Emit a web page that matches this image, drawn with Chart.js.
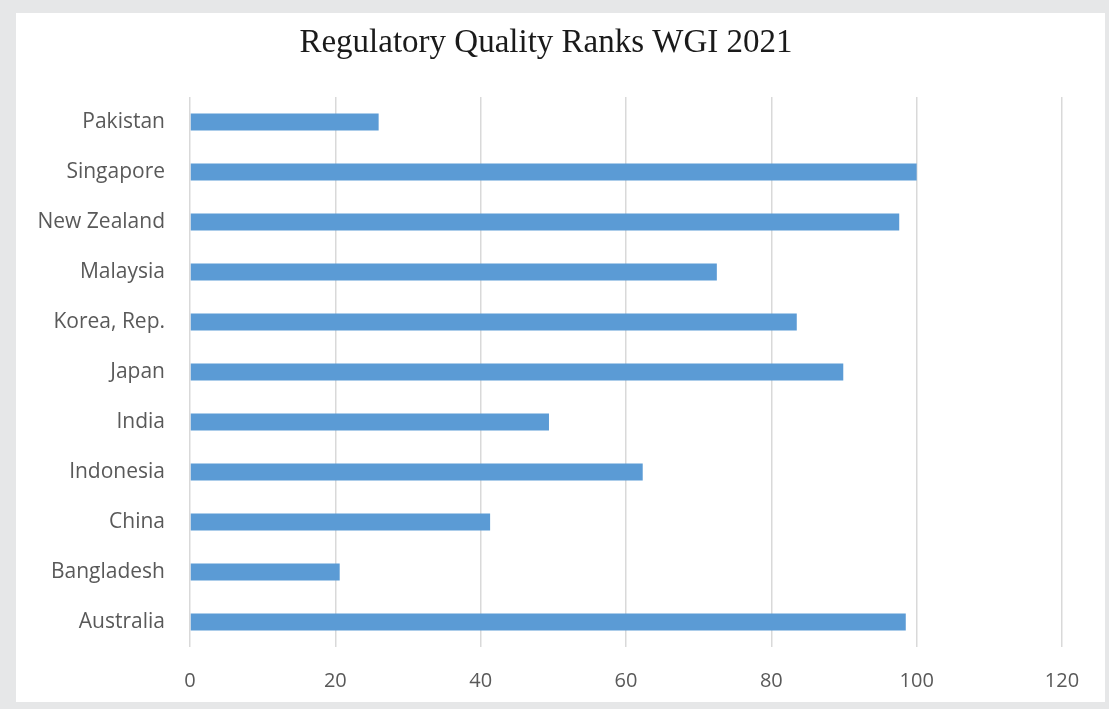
<!DOCTYPE html>
<html>
<head>
<meta charset="utf-8">
<script src="https://cdn.jsdelivr.net/npm/chart.js@4"></script>
<style>
  html, body { margin: 0; padding: 0; }
  body { width: 1109px; height: 709px; background: #e6e7e8; position: relative; overflow: hidden; }
  .card { position: absolute; left: 16px; top: 13px; width: 1089px; height: 689px; background: #fff; }
</style>
</head>
<body>
<div class="card"><canvas id="chart" width="1089" height="689"></canvas></div>
<script>
const countries = ["Pakistan", "Singapore", "New Zealand", "Malaysia", "Korea, Rep.", "Japan",
    "India", "Indonesia", "China", "Bangladesh", "Australia"];
const ranks = [25.96, 100, 97.6, 72.5, 83.5, 89.9, 49.4, 62.3, 41.3, 20.6, 98.5];
const xTicks = [0, 20, 40, 60, 80, 100, 120];

new Chart(document.getElementById("chart"), {
    type: "bar",
    data: {
        labels: countries,
        datasets: [{
            label: "Regulatory Quality Rank",
            data: ranks,
            backgroundColor: "#5b9bd5",
            borderWidth: 0,
            barPercentage: 0.34,
            categoryPercentage: 1,
        }],
    },
    options: {
        indexAxis: "y",
        responsive: false,
        animation: false,
        layout: { padding: { left: 14, right: 43, top: 0, bottom: 0 } },
        plugins: {
            legend: { display: false },
            tooltip: { enabled: false },
            title: {
                display: true,
                text: "Regulatory Quality Ranks WGI 2021",
                color: "#1a1a1a",
                font: { family: "'Liberation Serif', serif", size: 33, weight: "normal", lineHeight: 1.2 },
                padding: { top: 11, bottom: 33.4 },
            },
        },
        scales: {
            x: {
                min: xTicks[0],
                max: xTicks[xTicks.length - 1],
                afterBuildTicks: (s) => { s.ticks = xTicks.map(v => ({ value: v })); },
                afterFit: (s) => { s.height = 55; s.paddingLeft = 0; s.paddingRight = 0; },
                grid: { color: "#d9d9d9", lineWidth: 1.5, drawTicks: false },
                border: { display: false },
                ticks: { color: "#595959", font: { family: "'Open Sans', sans-serif", size: 20 }, padding: 22 },
            },
            y: {
                afterFit: (s) => { s.width = 160; s.paddingTop = 0; s.paddingBottom = 0; },
                grid: { display: false, drawTicks: false },
                border: { display: false },
                ticks: { color: "#595959", font: { family: "'Open Sans', sans-serif", size: 21 }, padding: 25 },
            },
        },
    },
});
</script>
</body>
</html>
